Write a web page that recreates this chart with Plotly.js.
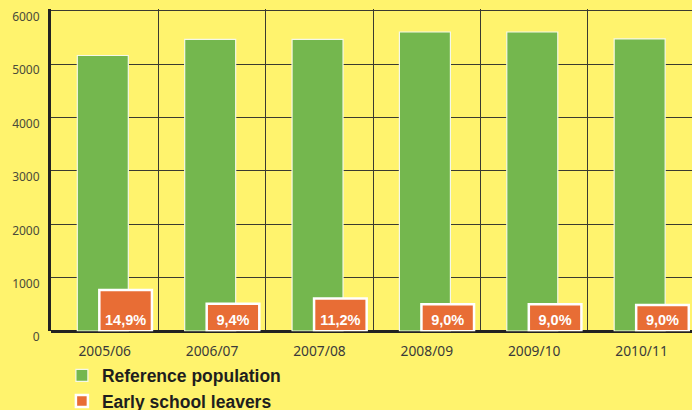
<!DOCTYPE html>
<html>
<head>
<meta charset="utf-8">
<script src="https://cdn.plot.ly/plotly-3.0.1.min.js"></script>
<style>
html,body{margin:0;padding:0;background:#FFF36D;}
#chart{width:692px;height:410px;}
</style>
</head>
<body>
<div id="chart"></div>
<script>
var years = ['2005/06', '2006/07', '2007/08', '2008/09', '2009/10', '2010/11'];
var referencePopulation = [5160, 5460, 5460, 5600, 5600, 5470];
var earlySchoolLeavers = [769, 513, 612, 504, 504, 492];
var leaverShareLabels = ['14,9%', '9,4%', '11,2%', '9,0%', '9,0%', '9,0%'];
var yTicks = [0, 1000, 2000, 3000, 4000, 5000, 6000];

var traces = [
  {
    type: 'bar',
    name: 'Reference population',
    x: years,
    y: referencePopulation,
    width: 0.475,
    offset: -0.255,
    marker: {color: '#74B74E', line: {color: '#F4F8E8', width: 1.2}},
    hoverinfo: 'x+y'
  },
  {
    type: 'bar',
    name: 'Early school leavers',
    x: years,
    y: earlySchoolLeavers,
    width: 0.49,
    offset: -0.05,
    text: leaverShareLabels,
    textposition: 'inside',
    insidetextanchor: 'start',
    constraintext: 'none',
    textangle: 0,
    textfont: {family: 'Liberation Sans, Arial, sans-serif', size: 14.5, color: '#FFFFFF', weight: 'bold'},
    marker: {color: '#E86D35', line: {color: '#FFFFFF', width: 2.5}},
    hoverinfo: 'x+y'
  }
];

// paper spans y 0..401px (t=9, b=0); plot bottom at ~331px from top
var layout = {
  width: 692,
  height: 410,
  margin: {l: 51, r: 0, t: 9, b: 0, autoexpand: false},
  paper_bgcolor: '#FFF36D',
  plot_bgcolor: '#FFF36D',
  barmode: 'overlay',
  showlegend: true,
  legend: {
    x: 0.017, y: 0.131, xanchor: 'left', yanchor: 'top',
    orientation: 'v',
    bgcolor: 'rgba(0,0,0,0)',
    font: {family: 'Liberation Sans Narrow, Arial Narrow, sans-serif', size: 17.5, color: '#1E1E1E', weight: 'bold'},
    tracegroupgap: 0,
    itemclick: false
  },
  xaxis: {
    type: 'category',
    range: [-0.5, 5.47],
    tickson: 'boundaries',
    showgrid: true,
    gridcolor: '#3A3A30',
    gridwidth: 1,
    ticks: '',
    showline: false,
    zeroline: false,
    tickfont: {family: 'Noto Sans, sans-serif', size: 13.8, color: '#3A3A3A'},
    ticklabelstandoff: 10,
    fixedrange: true
  },
  yaxis: {
    range: [0, 6030],
    domain: [0.1965, 1],
    tickvals: yTicks,
    ticktext: yTicks.map(String),
    showgrid: true,
    gridcolor: '#3A3A30',
    gridwidth: 1,
    zeroline: true,
    zerolinecolor: '#222222',
    zerolinewidth: 3,
    showline: true,
    linecolor: '#222222',
    linewidth: 3,
    ticks: '',
    ticklabelshift: 6,
    ticklabelstandoff: 6,
    tickfont: {family: 'Noto Sans, sans-serif', size: 12, color: '#4A4A3A'},
    fixedrange: true
  }
};

Plotly.newPlot('chart', traces, layout, {displayModeBar: false, staticPlot: true});
</script>
</body>
</html>
